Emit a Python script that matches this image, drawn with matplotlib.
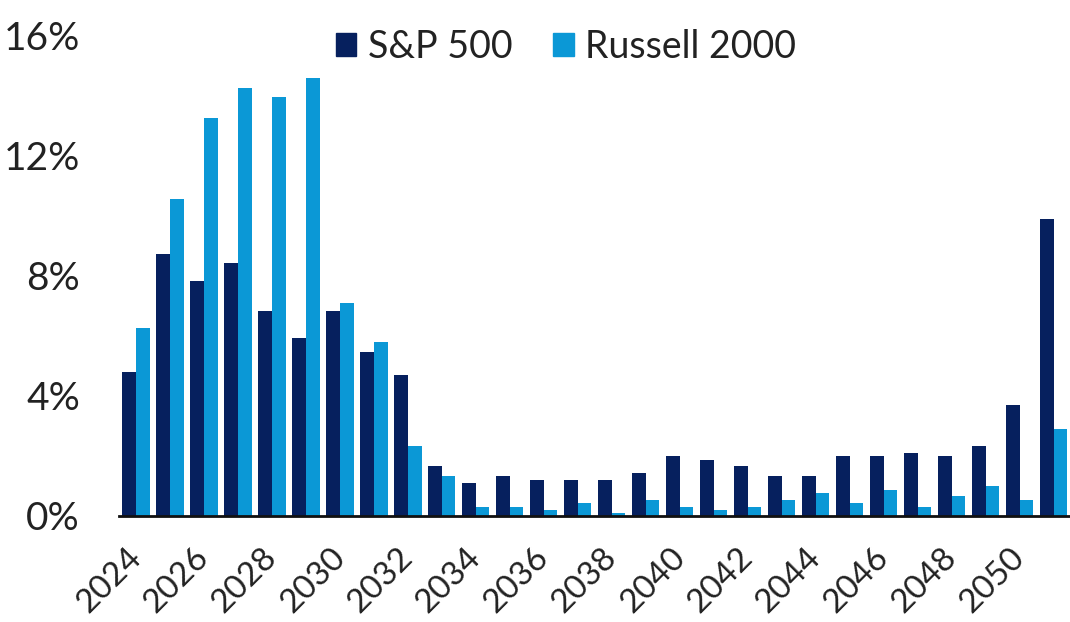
import matplotlib
matplotlib.use("Agg")
import matplotlib.pyplot as plt
import numpy as np
from matplotlib.patches import Patch

years = list(range(2024, 2052))
sp500 = [4.8, 8.73, 7.83, 8.4, 6.83, 5.93, 6.83, 5.47, 4.7, 1.67, 1.1, 1.33, 1.2, 1.2,
         1.2, 1.43, 2.0, 1.87, 1.67, 1.33, 1.33, 2.0, 2.0, 2.1, 2.0, 2.33, 3.7, 9.87]
russell = [6.27, 10.53, 13.23, 14.23, 13.93, 14.57, 7.07, 5.8, 2.33, 1.33, 0.3, 0.3, 0.2, 0.43,
           0.1, 0.53, 0.3, 0.2, 0.3, 0.53, 0.77, 0.43, 0.87, 0.3, 0.67, 1.0, 0.53, 2.9]
tick_years = [str(y) for y in range(2024, 2051, 2)]
yticks = [0, 4, 8, 12, 16]
series_names = ["S&P 500", "Russell 2000"]

c_sp = "#06205e"
c_ru = "#0b98d6"
txt = "#222222"
plt.rcParams['font.family'] = ['Lato', 'DejaVu Sans']

fig = plt.figure(figsize=(10.7, 6.22), dpi=100)
W, H = 1070, 622
left, right, top, bottom = 119, 1069, 35, 516
ax = fig.add_axes([left / W, 1 - bottom / H, (right - left) / W, (bottom - top) / H])

x = np.arange(len(years))
w = 0.4
ax.bar(x - w / 2, sp500, width=w, color=c_sp, label=series_names[0])
ax.bar(x + w / 2, russell, width=w, color=c_ru, label=series_names[1])

ax.set_xlim(-0.5, 27.45)
ax.set_ylim(0, 16)
ax.set_yticks(yticks)
ax.set_yticklabels([f"{v}%" for v in yticks], fontsize=28, color=txt)
# labels sit slightly left of the group centres, as in the reference
tick_pos = [years.index(int(t)) - 0.3 for t in tick_years]
ax.set_xticks(tick_pos)
ax.set_xticklabels(tick_years, rotation=45, ha='right', rotation_mode='anchor',
                   fontsize=24, color=txt)
ax.tick_params(axis='both', length=0)
ax.tick_params(axis='x', pad=19)
ax.tick_params(axis='y', pad=28)
for s in ['top', 'right', 'left']:
    ax.spines[s].set_visible(False)
ax.spines['bottom'].set_linewidth(2)
ax.spines['bottom'].set_color('#111111')

handles = [Patch(color=c_sp), Patch(color=c_ru)]
fig.legend(handles, series_names, loc='center', bbox_to_anchor=(566 / W, 1 - 47 / H),
           ncol=2, frameon=False, fontsize=27, handlelength=0.55, handleheight=0.55,
           handletextpad=0.3, columnspacing=1.1, labelcolor=txt)

fig.savefig("out.png", dpi=100)
